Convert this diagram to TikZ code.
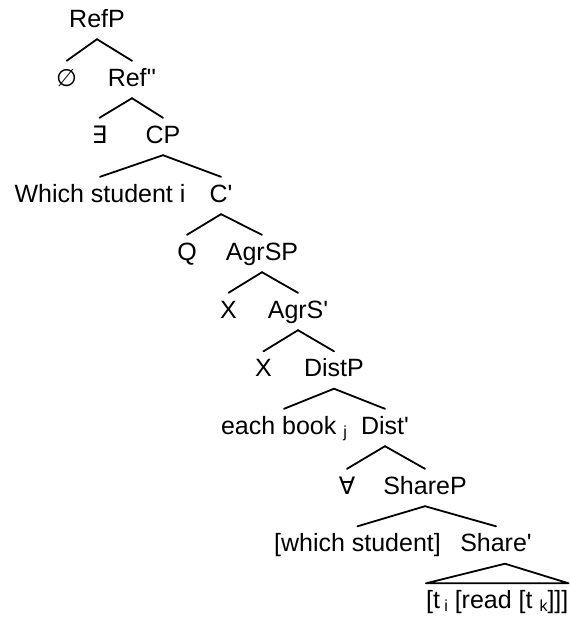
\documentclass[tikz,border=0pt]{standalone}
\usepackage{fontspec}
\setmainfont{Liberation Sans}[Ligatures=TeXOff]
\newfontfamily\symfont{DejaVu Sans}
\newcommand{\lsub}[1]{\raisebox{-3pt}{\fontsize{16}{16}\selectfont #1}}
\begin{document}
\begin{tikzpicture}[x=1pt,y=-1pt]
\tikzset{
  lbl/.style={inner sep=0pt, text height=25pt, text depth=12pt, anchor=base,
              font=\fontsize{25}{28}\selectfont},
  sym/.style={lbl, font=\fontsize{24}{26}\symfont},
  branch/.style={line width=1.8pt, line cap=round},
}
\useasboundingbox (0,0) rectangle (570,622);

% category labels, one row per level
\node[lbl] (RefP)    at (97,27)     {RefP};
\node[sym] (nul)     at (66.7,86)   {∅};
\node[lbl] (RefB)    at (132,86)    {Ref''};
\node[sym] (ex)      at (99.5,143)  {∃};
\node[lbl] (CP)      at (163,143)   {CP};
\node[lbl] (wh)      at (100,202)   {Which student i};
\node[lbl] (CB)      at (221,202)   {C'};
\node[lbl] (Q)       at (187,260)   {Q};
\node[lbl] (AgrSP)   at (262,260)   {AgrSP};
\node[lbl] (X1)      at (228.5,318) {X};
\node[lbl] (AgrSB)   at (298,318)   {AgrS'};
\node[lbl] (X2)      at (263.5,376.5) {X};
\node[lbl] (DistP)   at (334,376.5) {DistP};
\node[lbl] (each)    at (284,434)   {each book \lsub{j}};
\node[lbl] (DistB)   at (385,434)   {Dist'};
\node[sym] (all)     at (347,494)   {∀};
\node[lbl] (ShareP)  at (425,494)   {ShareP};
\node[lbl] (whs)     at (357.5,551.5) {[which student]};
\node[lbl] (ShareB)  at (496,551.5) {Share'};
\node[lbl, anchor=base west] (vp) at (426,608.5) {[t\,\lsub{i} [read [t \lsub{k}]]]};

% branches
\foreach \p/\c in {RefP/nul, RefP/RefB, RefB/ex, RefB/CP, CP/wh, CP/CB,
                   CB/Q, CB/AgrSP, AgrSP/X1, AgrSP/AgrSB, AgrSB/X2, AgrSB/DistP,
                   DistP/each, DistP/DistB, DistB/all, DistB/ShareP,
                   ShareP/whs, ShareP/ShareB}
  \draw[branch] (\p.south) -- (\c.north);

% roof over the unanalysed constituent
\draw[branch, line join=round] ([xshift=9pt]ShareB.south) -- (vp.north west) -- (vp.north east) -- cycle;
\end{tikzpicture}
\end{document}
